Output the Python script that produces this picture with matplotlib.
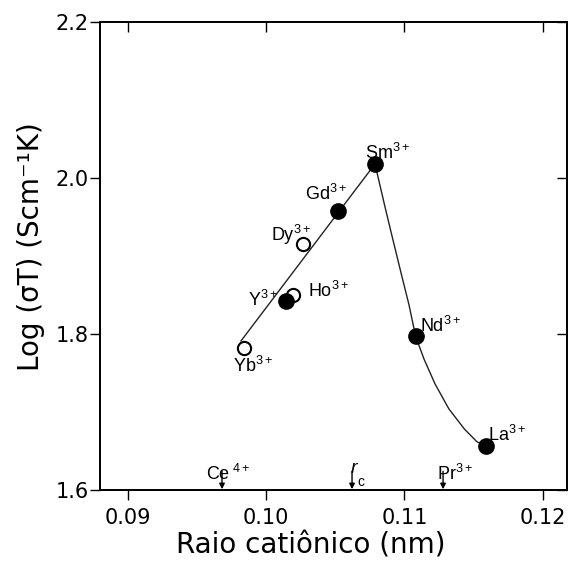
import matplotlib
matplotlib.use("Agg")
import matplotlib.pyplot as plt

plt.rcParams['font.family'] = ['Liberation Sans', 'DejaVu Sans']
plt.rcParams['mathtext.fontset'] = 'custom'
plt.rcParams['mathtext.rm'] = 'Liberation Sans'
plt.rcParams['mathtext.it'] = 'Liberation Sans:italic'

# ions, radius (nm), log(sigma T)
ions = ['Yb', 'Y', 'Ho', 'Dy', 'Gd', 'Sm', 'Nd', 'La']
raio = [0.09843, 0.10145, 0.10192, 0.10268, 0.10524, 0.10788, 0.11081, 0.11587]
logst = [1.7817, 1.8427, 1.8494, 1.9154, 1.9583, 2.0180, 1.7974, 1.6564]
cheio = [False, True, False, False, True, True, True, True]

# straight guide line
reta_x = [0.09819, 0.10788]
reta_y = [1.7910, 2.0180]

# curved guide line
curva_x = [0.10788, 0.10857, 0.10918, 0.10980, 0.11034, 0.11081, 0.11142,
           0.11222, 0.11322, 0.11435, 0.11524, 0.11587]
curva_y = [2.0180, 1.9654, 1.9205, 1.8756, 1.8372, 1.7974, 1.7680,
           1.7360, 1.7040, 1.6780, 1.6620, 1.6564]

# reference radii marked with arrows
setas_x = [0.09682, 0.10622, 0.11280]

ticks_x = [0.09, 0.10, 0.11, 0.12]
ticks_y = [1.6, 1.8, 2.0, 2.2]

# label offsets in pixels
desloc = [(-11, -24), (-38, -5), (15, -2), (-32, 3), (-33, 11), (-10, 5), (4, 4), (2, 5)]

fig = plt.figure(figsize=(5.68, 5.67), dpi=100)
ax = fig.add_axes([100/568, 1 - 490/567, 467/568, 468/567])

ax.plot(reta_x, reta_y, color='#222222', lw=1.0, zorder=1)
ax.plot(curva_x, curva_y, color='#222222', lw=1.0, zorder=1)

for nome, x, y, f, d in zip(ions, raio, logst, cheio, desloc):
    if f:
        ax.plot(x, y, 'o', ms=11, mfc='black', mec='black', zorder=3)
    else:
        ax.plot(x, y, 'o', ms=9.5, mfc='white', mec='black', mew=1.5, zorder=2)
    ax.annotate(r'$\mathrm{' + nome + r'}^{3+}$', (x, y), xytext=d,
                textcoords='offset pixels', ha='left', va='baseline', fontsize=13)

for sx in setas_x:
    ax.annotate('', xy=(sx, 1.601), xytext=(sx, 1.624),
                arrowprops=dict(arrowstyle='-|>', color='black', lw=1.0,
                                mutation_scale=8, shrinkA=0, shrinkB=0))

ax.text(setas_x[0] - 0.00115, 1.6128, r'$\mathrm{Ce}^{\ 4+}$', fontsize=13, ha='left', va='baseline')
ax.text(setas_x[1] - 0.00015, 1.6218, r'$r$', fontsize=14, ha='left', va='baseline')
ax.text(setas_x[1] + 0.0004, 1.6045, 'c', fontsize=10, ha='left', va='baseline')
ax.text(setas_x[2] - 0.00045, 1.6128, r'$\mathrm{Pr}^{3+}$', fontsize=13, ha='left', va='baseline')

ax.set_xlim(0.08800, 0.12176)
ax.set_ylim(1.6, 2.2)
ax.set_xticks(ticks_x)
ax.set_xticklabels(['0.09', '0.10', '0.11', '0.12'], family='DejaVu Sans')
ax.set_yticks(ticks_y)
ax.set_yticklabels(['1.6', '1.8', '2.0', '2.2'], family='DejaVu Sans')

ax.tick_params(axis='x', direction='out', length=7, width=1, labelsize=15, pad=6)
ax.tick_params(axis='y', direction='out', length=7, width=1, labelsize=15, pad=1)

# inward ticks on top and right through twin axes
ax_top = ax.twiny()
ax_top.set_xlim(ax.get_xlim())
ax_top.set_xticks(ticks_x)
ax_top.tick_params(axis='x', direction='in', top=True, labeltop=False,
                   length=7, width=1)
ax_dir = ax.twinx()
ax_dir.set_ylim(ax.get_ylim())
ax_dir.set_yticks(ticks_y)
ax_dir.tick_params(axis='y', direction='in', right=True, labelright=False,
                   length=7, width=1)

for a in (ax, ax_top, ax_dir):
    for s in a.spines.values():
        s.set_linewidth(1.1)

ax.set_xlabel('Raio catiônico (nm)', fontsize=20, family='DejaVu Sans')
ax.xaxis.set_label_coords(0.452, -0.088)
ax.set_ylabel('Log (σT) (Scm⁻¹K)', fontsize=20, family='DejaVu Sans')
ax.yaxis.set_label_coords(-0.117, 0.52)

fig.savefig('out.png', dpi=100)
